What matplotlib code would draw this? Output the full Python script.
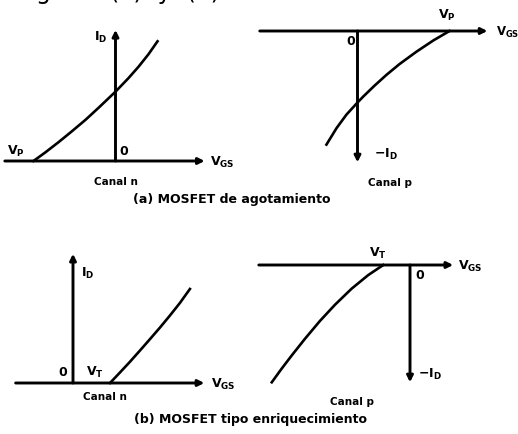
import matplotlib.pyplot as plt

plt.rcParams['font.family'] = ['DejaVu Sans']
plt.rcParams['font.weight'] = 'bold'
plt.rcParams['mathtext.fontset'] = 'dejavusans'
plt.rcParams['mathtext.default'] = 'bf'

# curves (V_GS in V, I_D in mA)
# (a) depletion MOSFET
vgs_dep_n = [-4.0, -3.41, -2.78, -2.15, -1.46, -0.83, 0.0, 0.63, 1.12, 1.61, 2.05]
id_dep_n = [0.0, 0.51, 1.09, 1.70, 2.39, 3.08, 4.02, 4.80, 5.46, 6.19, 6.94]
vgs_dep_p = [4.0, 3.30, 2.57, 1.83, 1.26, 0.74, 0.26, 0.0, -0.48, -0.91, -1.35]
id_dep_p = [0.0, -0.53, -1.16, -1.86, -2.47, -3.08, -3.68, -4.03, -4.71, -5.47, -6.40]
# (b) enhancement MOSFET
vgs_enh_n = [2.0, 2.54, 3.08, 3.62, 4.16, 4.70, 5.24, 5.78, 6.32]
id_enh_n = [0.0, 0.62, 1.25, 1.91, 2.58, 3.26, 3.97, 4.71, 5.53]
vgs_enh_p = [-1.98, -3.09, -4.32, -5.56, -6.67, -7.78, -8.76, -9.50, -10.24]
id_enh_p = [0.0, -0.59, -1.39, -2.34, -3.29, -4.34, -5.32, -6.09, -6.90]

W, H = 518, 435
fig = plt.figure(figsize=(W / 100, H / 100), dpi=100)
fig.patch.set_facecolor('white')


def panel(ox, oy, sx, sy, box):
    """axes whose data origin sits at pixel (ox, oy), sx/sy px per unit"""
    x0, y0, x1, y1 = box
    ax = fig.add_axes([x0 / W, 1 - y1 / H, (x1 - x0) / W, (y1 - y0) / H])
    ax.set_xlim((x0 - ox) / sx, (x1 - ox) / sx)
    ax.set_ylim((oy - y1) / sy, (oy - y0) / sy)
    ax.axis('off')
    return ax


def arrow(ax, start, tip):
    ax.annotate('', xy=tip, xytext=start,
                arrowprops=dict(arrowstyle='-|>', lw=2.1, color='k',
                                mutation_scale=9, shrinkA=0, shrinkB=0))


fs = 9
lw = 1.9

# (a) canal n
ax = panel(115.5, 162, 20.5, 17.25, (0, 25, 259, 205))
arrow(ax, (-5.4, 0), (4.35, 0))
arrow(ax, (0, 0), (0, 7.6))
ax.plot(vgs_dep_n, id_dep_n, color='k', lw=lw)
ax.text(-0.7, 7.2, '$I_D$', fontsize=fs, ha='center', va='center')
ax.text(-4.85, 0.6, '$V_P$', fontsize=fs, ha='center', va='center')
ax.text(0.4, 0.6, '0', fontsize=fs, ha='center', va='center')
ax.text(5.2, 0, '$V_{GS}$', fontsize=fs, ha='center', va='center')
ax.text(0, -1.15, 'Canal n', fontsize=7.5, ha='center', va='center')

# (a) canal p
ax = panel(357.5, 32, 23, 17.75, (259, 5, 518, 205))
arrow(ax, (-4.25, 0), (5.65, 0))
arrow(ax, (0, 0), (0, -7.4))
ax.plot(vgs_dep_p, id_dep_p, color='k', lw=lw)
ax.text(3.9, 0.95, '$V_P$', fontsize=fs, ha='center', va='center')
ax.text(-0.3, -0.55, '0', fontsize=fs, ha='center', va='center')
ax.text(1.25, -6.9, '$-I_D$', fontsize=fs, ha='center', va='center')
ax.text(6.0, 0, '$V_{GS}$', fontsize=8.5, ha='left', va='center')
ax.text(1.4, -8.5, 'Canal p', fontsize=7.5, ha='center', va='center')

fig.text(232 / W, 1 - 200 / H, '(a) MOSFET de agotamiento', fontsize=9,
         ha='center', va='center')

# (b) canal n
ax = panel(73, 384, 18.5, 17, (0, 225, 259, 430))
arrow(ax, (-3.1, 0), (7.1, 0))
arrow(ax, (0, 0), (0, 7.6))
ax.plot(vgs_enh_n, id_enh_n, color='k', lw=lw)
ax.text(0.8, 6.5, '$I_D$', fontsize=fs, ha='center', va='center')
ax.text(-0.55, 0.7, '0', fontsize=fs, ha='center', va='center')
ax.text(1.2, 0.7, '$V_T$', fontsize=fs, ha='center', va='center')
ax.text(8.1, 0, '$V_{GS}$', fontsize=fs, ha='center', va='center')
ax.text(1.7, -0.78, 'Canal n', fontsize=7.5, ha='center', va='center')

# (b) canal p
ax = panel(410, 266, 13.5, 17, (259, 225, 518, 430))
arrow(ax, (-11.2, 0), (3.2, 0))
arrow(ax, (0, 0), (0, -6.9))
ax.plot(vgs_enh_p, id_enh_p, color='k', lw=lw)
ax.text(-2.4, 0.75, '$V_T$', fontsize=fs, ha='center', va='center')
ax.text(0.75, -0.55, '0', fontsize=fs, ha='center', va='center')
ax.text(1.45, -6.4, '$-I_D$', fontsize=fs, ha='center', va='center')
ax.text(4.45, 0, '$V_{GS}$', fontsize=fs, ha='center', va='center')
ax.text(-4.3, -8.0, 'Canal p', fontsize=7.5, ha='center', va='center')

fig.text(250 / W, 1 - 420 / H, '(b) MOSFET tipo enriquecimiento', fontsize=9,
         ha='center', va='center')

# line of body text cut by the top edge of the scan
fig.text(36 / W, 1 + 1 / H, 'g', fontsize=17, fontweight='normal',
         ha='left', va='baseline')
fig.text(110 / W, 1 + 1 / H, '(a)  y  (b)', fontsize=17, fontweight='normal',
         ha='left', va='baseline')

fig.savefig('out.png', dpi=100, facecolor='white')
